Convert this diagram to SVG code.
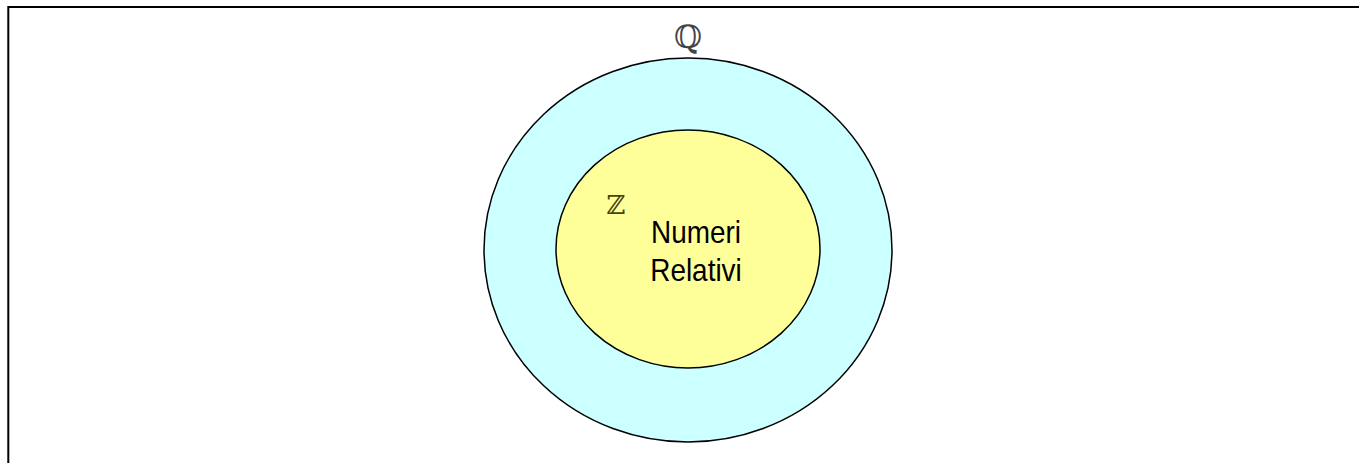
<svg xmlns="http://www.w3.org/2000/svg" width="1359" height="465" viewBox="0 0 1359 465">
<style>
.set{stroke:#000;stroke-width:1.5}
.lbl{font-family:"Liberation Sans",Arial,sans-serif;font-size:31px;fill:#000;text-anchor:middle}
.sym{font-family:"DejaVu Serif","DejaVu Sans",serif;text-anchor:middle}
</style>
<rect width="1359" height="465" fill="#fff"/>
<path d="M8.3,463 V7 H1359" fill="none" stroke="#000" stroke-width="2"/>
<g id="Q">
<ellipse class="set" cx="688" cy="250" rx="204" ry="192" fill="#CCFFFF"/>
<text class="sym" x="688" y="48" font-size="32" fill="#444">ℚ</text>
</g>
<g id="Z">
<ellipse class="set" cx="688" cy="249" rx="132" ry="119" fill="#FFFF99"/>
<text class="sym" x="616" y="214" font-size="26" fill="#444411">ℤ</text>
<g transform="translate(696,0) scale(0.9,1)">
<text class="lbl" x="0" y="243">Numeri</text>
<text class="lbl" x="0" y="281">Relativi</text>
</g>
</g>
<g id="connectors"/>
</svg>
